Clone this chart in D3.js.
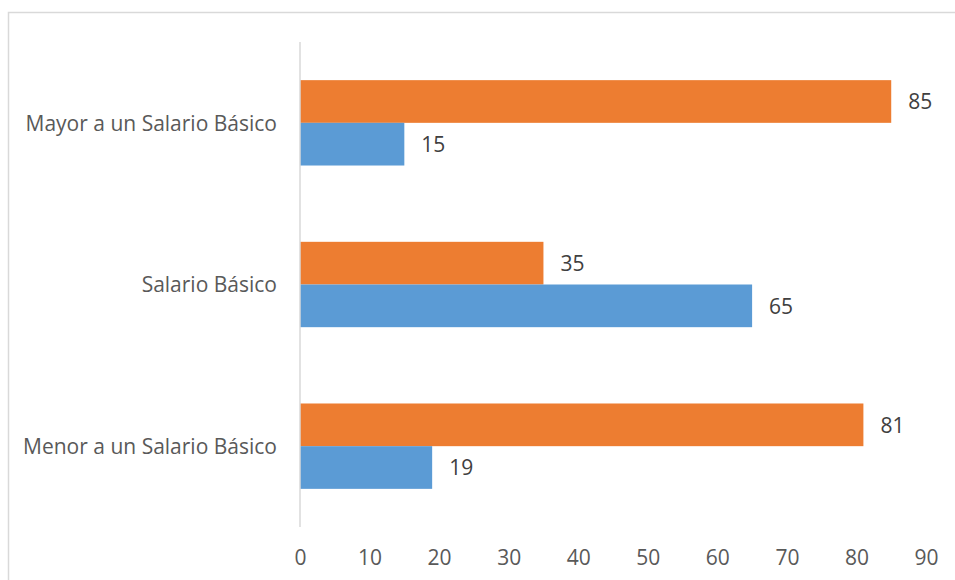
<!DOCTYPE html>
<html>
<head>
<meta charset="utf-8">
<script src="https://cdn.jsdelivr.net/npm/d3@7"></script>
<style>
  html, body { margin: 0; padding: 0; background: #fff; }
  svg { display: block; font-family: "Open Sans", "Noto Sans", sans-serif; }
</style>
</head>
<body>
<svg id="chart" width="955" height="580"></svg>
<script>
// Salary ranges, listed top to bottom
const categories = ["Mayor a un Salario Básico", "Salario Básico", "Menor a un Salario Básico"];
// Two series per category: orange bar on top, blue bar below
const seriesNames = ["Serie 2", "Serie 1"];
const orangeValues = [85, 35, 81];
const blueValues = [15, 65, 19];
const xTicks = [0, 10, 20, 30, 40, 50, 60, 70, 80, 90];
const colors = ["#ED7D31", "#5B9BD5"];

const svg = d3.select("#chart");
const W = 955, H = 580;
const FS = 21;

// Chart frame
svg.append("path")
  .attr("d", `M8.5,${H} V12.5 H${W}`)
  .attr("fill", "none")
  .attr("stroke", "#d9d9d9")
  .attr("stroke-width", 1.5);

const x = d3.scaleLinear().domain([0, 90]).range([300, 926]);
const y = d3.scaleBand().domain(categories).range([42, 527])
  .paddingInner(0.472).paddingOuter(0.236);
const ySub = d3.scaleBand().domain(seriesNames).range([0, y.bandwidth()]);

const rows = categories.map((c, i) => ({
  cat: c,
  vals: [
    { s: seriesNames[0], v: orangeValues[i], color: colors[0] },
    { s: seriesNames[1], v: blueValues[i], color: colors[1] }
  ]
}));

const groups = svg.append("g").selectAll("g").data(rows).join("g")
  .attr("transform", d => `translate(0,${y(d.cat)})`);

groups.selectAll("rect").data(d => d.vals).join("rect")
  .attr("x", x(0))
  .attr("y", d => ySub(d.s))
  .attr("width", d => x(d.v) - x(0))
  .attr("height", ySub.bandwidth())
  .attr("fill", d => d.color);

groups.selectAll("text.val").data(d => d.vals).join("text")
  .attr("class", "val")
  .attr("x", d => x(d.v) + 17)
  .attr("y", d => ySub(d.s) + ySub.bandwidth() / 2)
  .attr("dy", "0.38em")
  .attr("fill", "#404040")
  .attr("font-size", FS)
  .text(d => d.v);

// Vertical category axis line
svg.append("line")
  .attr("x1", x(0)).attr("x2", x(0))
  .attr("y1", 42).attr("y2", 527)
  .attr("stroke", "#d9d9d9").attr("stroke-width", 1.5);

// Category labels
svg.append("g").selectAll("text").data(categories).join("text")
  .attr("x", 277)
  .attr("y", d => y(d) + y.bandwidth() / 2)
  .attr("dy", "0.38em")
  .attr("text-anchor", "end")
  .attr("fill", "#595959")
  .attr("font-size", FS)
  .text(d => d);

// Value axis labels (no line, no ticks)
const xAxis = svg.append("g")
  .attr("transform", "translate(0,527)")
  .call(d3.axisBottom(x).tickValues(xTicks).tickSize(0).tickPadding(23));
xAxis.select(".domain").remove();
xAxis.selectAll("text")
  .attr("fill", "#595959")
  .attr("font-size", FS)
  .attr("font-family", "\"Open Sans\", \"Noto Sans\", sans-serif");
</script>
</body>
</html>
